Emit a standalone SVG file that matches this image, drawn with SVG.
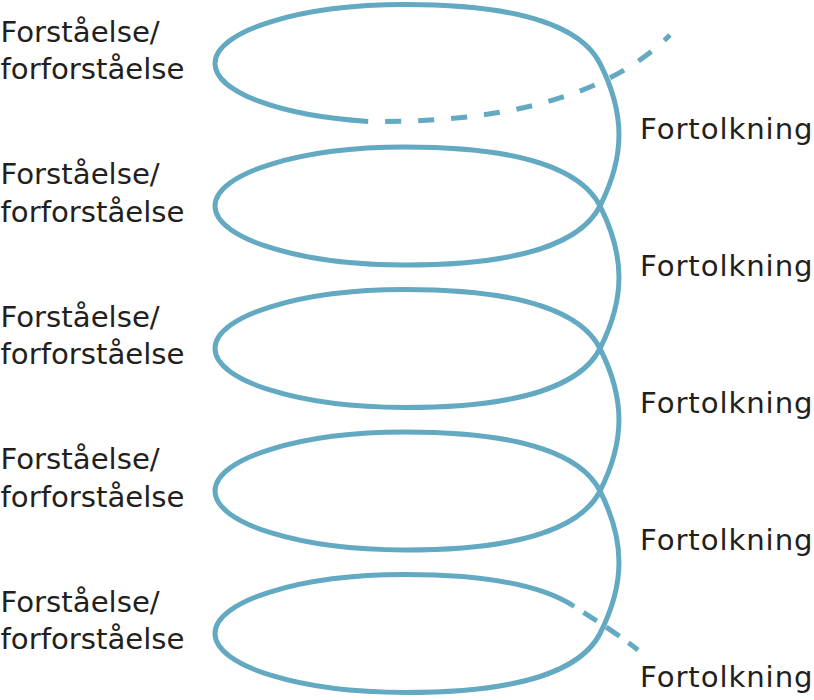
<svg xmlns="http://www.w3.org/2000/svg" width="814" height="700" viewBox="0 0 814 700">
<style>
.helix{fill:none;stroke:#63a9c2;stroke-width:5}
.lbl{font-family:"DejaVu Sans","Open Sans",sans-serif;font-size:29.2px;fill:#231f20}
.rt{letter-spacing:0.9px}
</style>
<rect x="0" y="0" width="814" height="700" fill="#ffffff"/>
<g id="connectors">
<path class="helix" d="M368.2,121.4 C280.9,116.05 215,92.2 215,63.5 C215,30.9 300.1,4.5 405,4.5 C525,4.5 582.3,28.5 600,63.5 C625.3,113.5 625.3,156 600,206 C582.3,241 525,265 405,265 C300.1,265 215,238.6 215,206 C215,173.4 300.1,147 405,147 C525,147 582.3,171 600,206 C625.3,256 625.3,298.5 600,348.5 C582.3,383.5 525,407.5 405,407.5 C300.1,407.5 215,381.1 215,348.5 C215,315.9 300.1,289.5 405,289.5 C525,289.5 582.3,313.5 600,348.5 C625.3,398.5 625.3,441 600,491 C582.3,526 525,550 405,550 C300.1,550 215,523.6 215,491 C215,458.4 300.1,432 405,432 C525,432 582.3,456 600,491 C625.3,541 625.3,583.5 600,633.5 C582.3,668.5 525,692.5 405,692.5 C300.1,692.5 215,666.1 215,633.5 C215,600.9 300.1,574.5 405,574.5 C489,574.5 542.3,586.3 572.6,605.4"/>
<path class="helix" stroke-dasharray="16 17" stroke-dashoffset="16" d="M368.2,121.4 C480,123 600,105 670,35"/>
<path class="helix" stroke-dasharray="16 11" stroke-dashoffset="14" d="M572.6,605.4 C590,616.4 622,637 638,650"/>
</g>
<g id="forstaelse-1"><text class="lbl"><tspan x="0.5" y="41.7">Forståelse/</tspan><tspan x="0.5" y="79.3">forforståelse</tspan></text></g>
<g id="forstaelse-2"><text class="lbl"><tspan x="0.5" y="184.2">Forståelse/</tspan><tspan x="0.5" y="221.8">forforståelse</tspan></text></g>
<g id="forstaelse-3"><text class="lbl"><tspan x="0.5" y="326.7">Forståelse/</tspan><tspan x="0.5" y="364.3">forforståelse</tspan></text></g>
<g id="forstaelse-4"><text class="lbl"><tspan x="0.5" y="469.2">Forståelse/</tspan><tspan x="0.5" y="506.8">forforståelse</tspan></text></g>
<g id="forstaelse-5"><text class="lbl"><tspan x="0.5" y="611.7">Forståelse/</tspan><tspan x="0.5" y="649.3">forforståelse</tspan></text></g>
<g id="fortolkning-1"><text class="lbl rt" x="640" y="138.5">Fortolkning</text></g>
<g id="fortolkning-2"><text class="lbl rt" x="640" y="275.6">Fortolkning</text></g>
<g id="fortolkning-3"><text class="lbl rt" x="640" y="412.7">Fortolkning</text></g>
<g id="fortolkning-4"><text class="lbl rt" x="640" y="549.8">Fortolkning</text></g>
<g id="fortolkning-5"><text class="lbl rt" x="640" y="686.9">Fortolkning</text></g>
</svg>
